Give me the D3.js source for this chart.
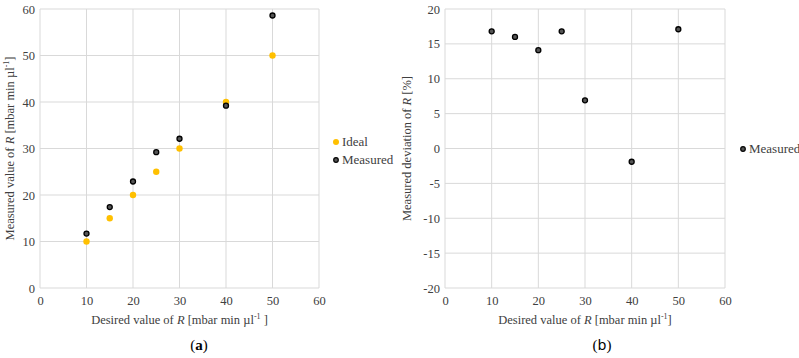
<!DOCTYPE html>
<html><head><meta charset="utf-8">
<script src="https://cdn.jsdelivr.net/npm/d3@7"></script>
<style>body{margin:0;background:#fff}svg{display:block}</style>
</head><body><svg id="c" width="799" height="358"></svg>
<script>
const desired = [10, 15, 20, 25, 30, 40, 50];
const ideal = [10, 15, 20, 25, 30, 40, 50];
const measured = [11.7, 17.4, 22.9, 29.2, 32.1, 39.2, 58.6];
const deviation = [16.8, 16.0, 14.1, 16.8, 6.9, -1.9, 17.1];
const xTicks = [0, 10, 20, 30, 40, 50, 60];
const yTicksA = [0, 10, 20, 30, 40, 50, 60];
const yTicksB = [-20, -15, -10, -5, 0, 5, 10, 15, 20];

const FONT = "'Liberation Serif', 'Times New Roman', 'DejaVu Serif', serif";
const svg = d3.select("#c").style("font-family", FONT);
const gridC = "#d9d9d9";
const txtC = "#404040";

function panel(o) {
  const x = d3.scaleLinear().domain([0, 60]).range([o.x0, o.x1]);
  const y = d3.scaleLinear().domain(o.ydom).range([o.y0, o.y1]);
  const g = svg.append("g");
  g.selectAll(".vg").data(xTicks.slice(1)).join("line")
    .attr("x1", d => x(d)).attr("x2", d => x(d)).attr("y1", o.y0).attr("y2", o.y1)
    .attr("stroke", gridC).attr("stroke-width", 1);
  g.selectAll(".hg").data(o.yt).join("line")
    .attr("x1", o.x0).attr("x2", o.x1).attr("y1", d => y(d)).attr("y2", d => y(d))
    .attr("stroke", gridC).attr("stroke-width", 1);
  g.append("line").attr("x1", o.x0).attr("x2", o.x0).attr("y1", o.y0).attr("y2", o.y1).attr("stroke", gridC);
  const xa = g.append("g").attr("transform", `translate(0,${o.y0 + 8})`)
    .call(d3.axisBottom(x).tickValues(xTicks).tickSize(0).tickPadding(0).tickFormat(d => String(d)));
  xa.select(".domain").remove();
  xa.attr("font-family", null).attr("font-size", null);
  xa.selectAll("text").style("font-family", FONT).style("font-size", "12.5px").attr("fill", txtC);
  const ya = g.append("g").attr("transform", `translate(${o.x0 - 5},0)`)
    .call(d3.axisLeft(y).tickValues(o.yt).tickSize(0).tickPadding(0).tickFormat(d => String(d)));
  ya.select(".domain").remove();
  ya.attr("font-family", null).attr("font-size", null);
  ya.selectAll("text").style("font-family", FONT).style("font-size", "12.5px").attr("fill", txtC);
  const xt = g.append("text").attr("x", (o.x0 + o.x1) / 2).attr("y", 324).attr("text-anchor", "middle")
    .style("font-size", "12.5px").attr("fill", txtC);
  xt.append("tspan").text("Desired value of ");
  xt.append("tspan").attr("font-style", "italic").text("R");
  xt.append("tspan").text(" [mbar min µl");
  xt.append("tspan").style("font-size", "8px").attr("dy", -5).text("-1");
  xt.append("tspan").attr("dy", 5).text(o.xsuffix);
  const yt = g.append("text").attr("transform", `translate(${o.ylx},${(o.y0 + o.y1) / 2}) rotate(-90)`)
    .attr("text-anchor", "middle").style("font-size", "12.5px").attr("fill", txtC);
  yt.append("tspan").text(o.ytitle);
  yt.append("tspan").attr("font-style", "italic").text("R");
  yt.append("tspan").text(o.ytitle2);
  if (o.ysup) {
    yt.append("tspan").style("font-size", "8px").attr("dy", -5).text("-1");
    yt.append("tspan").attr("dy", 5).text("]");
  }
  return { x, y, g };
}

const A = panel({ x0: 40, x1: 319, y0: 288, y1: 9, ydom: [0, 60], yt: yTicksA, ylx: 14,
  ytitle: "Measured value of ", ytitle2: " [mbar min µl", ysup: true, xsuffix: " ]" });
A.g.selectAll(".ideal").data(desired).join("circle")
  .attr("cx", d => A.x(d)).attr("cy", (d, i) => A.y(ideal[i])).attr("r", 3.2).attr("fill", "#ffc000");
A.g.selectAll(".meas").data(desired).join("circle")
  .attr("cx", d => A.x(d)).attr("cy", (d, i) => A.y(measured[i])).attr("r", 2.5)
  .attr("fill", "#555").attr("stroke", "#000").attr("stroke-width", 1.3);
svg.append("circle").attr("cx", 336).attr("cy", 142).attr("r", 3).attr("fill", "#ffc000");
svg.append("text").attr("x", 342).attr("y", 146).style("font-size", "13px").attr("fill", txtC).text("Ideal");
svg.append("circle").attr("cx", 336).attr("cy", 160).attr("r", 2.3).attr("fill", "#555").attr("stroke", "#000").attr("stroke-width", 1.2);
svg.append("text").attr("x", 342).attr("y", 164).style("font-size", "13px").attr("fill", txtC).text("Measured");

const B = panel({ x0: 445, x1: 725, y0: 288, y1: 9, ydom: [-20, 20], yt: yTicksB, ylx: 411,
  ytitle: "Measured deviation of ", ytitle2: " [%]", ysup: false, xsuffix: "]" });
B.g.selectAll(".dev").data(desired).join("circle")
  .attr("cx", d => B.x(d)).attr("cy", (d, i) => B.y(deviation[i])).attr("r", 2.5)
  .attr("fill", "#555").attr("stroke", "#000").attr("stroke-width", 1.3);
svg.append("circle").attr("cx", 743).attr("cy", 149).attr("r", 2.3).attr("fill", "#555").attr("stroke", "#000").attr("stroke-width", 1.2);
svg.append("text").attr("x", 749).attr("y", 153).style("font-size", "13px").attr("fill", txtC).text("Measured");

const ca = svg.append("text").attr("x", 199).attr("y", 350).attr("text-anchor", "middle").style("font-size", "15px").attr("fill", "#000");
ca.append("tspan").text("(");
ca.append("tspan").attr("font-weight", "bold").text("a");
ca.append("tspan").text(")");
const cb = svg.append("text").attr("x", 602).attr("y", 350).attr("text-anchor", "middle").style("font-size", "15px").attr("fill", "#000");
cb.append("tspan").text("(");
cb.append("tspan").style("font-family", "'DejaVu Sans', sans-serif").style("font-size", "14px").text("b");
cb.append("tspan").text(")");
</script></body></html>
